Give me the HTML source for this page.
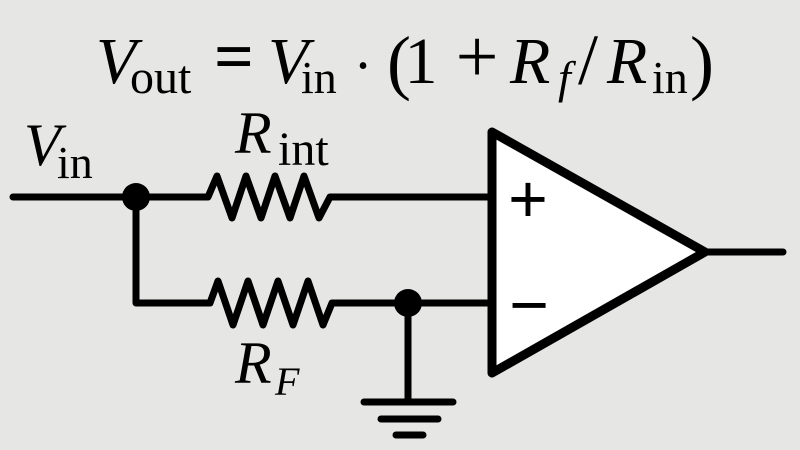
<!DOCTYPE html>
<html><head><meta charset="utf-8"><style>
html,body{margin:0;padding:0;background:#e6e6e4;}
svg{display:block;}
text{font-family:"Liberation Serif",serif;fill:#000;}
.i{font-style:italic;}
.s{font-family:"Liberation Sans",sans-serif;}
</style></head><body>
<svg width="800" height="450" viewBox="0 0 800 450" xmlns="http://www.w3.org/2000/svg">
<rect width="800" height="450" fill="#e6e6e4"/>
<!-- equation -->
<text class="i" x="96" y="83" font-size="66">V</text>
<text x="130" y="93" font-size="48">out</text>
<text x="234" y="80" font-size="70" font-weight="bold" text-anchor="middle">=</text>
<text class="i" x="268" y="83" font-size="66">V</text>
<text x="301" y="93" font-size="46">in</text>
<text x="363" y="75" font-size="28" text-anchor="middle">•</text>
<text x="387" y="86" font-size="72">(</text>
<text x="421" y="83" font-size="66" text-anchor="middle">1</text>
<text x="477" y="82" font-size="76" text-anchor="middle">+</text>
<text class="i" x="510" y="83" font-size="66">R</text>
<text class="i" x="558" y="93" font-size="46">f</text>
<text x="578" y="84" font-size="72">/</text>
<text class="i" x="607" y="83" font-size="66">R</text>
<text x="652" y="93" font-size="46">in</text>
<text x="690" y="86" font-size="72">)</text>
<!-- labels -->
<text class="i" x="24" y="165" font-size="60">V</text>
<text x="57" y="178" font-size="46">in</text>
<text class="i" x="235" y="153" font-size="60">R</text>
<text x="278" y="165" font-size="48">int</text>
<text class="i" x="235" y="383" font-size="60">R</text>
<text class="i" x="275" y="395" font-size="40">F</text>
<!-- wires -->
<g fill="none" stroke="#000" stroke-width="7" stroke-linecap="round" stroke-linejoin="round">
<polyline points="13,197 208,197 217,176 232,218 246,176 261,218 275,176 290,218 304,176 319,218 330,197 492,197"/>
<polyline points="136,197 136,303 210,303 218,281 233,325 248,281 263,325 278,281 293,325 308,281 323,325 332,303 492,303"/>
<line x1="408" y1="303" x2="408" y2="402"/>
<line x1="364" y1="402" x2="453" y2="402"/>
<line x1="381" y1="419" x2="438" y2="419"/>
<line x1="396" y1="435" x2="423" y2="435"/>
<line x1="705" y1="252" x2="783" y2="252"/>
</g>
<circle cx="136" cy="197" r="14" fill="#000"/>
<circle cx="408" cy="303" r="14" fill="#000"/>
<!-- op-amp -->
<polygon points="492,132 705,252 492,373" fill="#fff" stroke="#000" stroke-width="9" stroke-linejoin="round"/>
<text class="s" x="528" y="222" font-size="68" text-anchor="middle">+</text>
<text class="s" x="529" y="328" font-size="68" text-anchor="middle">−</text>
</svg>
</body></html>
